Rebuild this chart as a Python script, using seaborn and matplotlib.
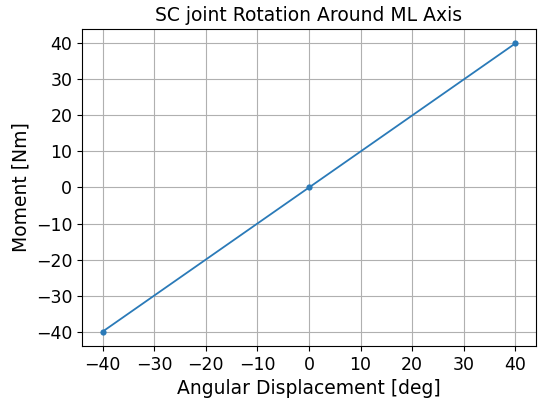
import matplotlib
matplotlib.use("Agg")
import matplotlib.pyplot as plt
import seaborn as sns
import pandas as pd

angles = [-40, 0, 40]
moments = [-40, 0, 40]

df = pd.DataFrame({"angle": angles, "moment": moments})

fig = plt.figure(figsize=(5.38, 3.99), dpi=100)
ax = fig.add_axes([82/538, 1-346/399, (536-82)/538, (346-29)/399])
sns.lineplot(data=df, x="angle", y="moment", ax=ax, marker="o", markersize=4.5,
             color="#2a7ab8", markeredgewidth=0, linewidth=1.3)
ax.grid(True, color="#b0b0b0", linewidth=0.8)
ax.set_axisbelow(True)
ax.set_xticks(range(-40, 41, 10))
ax.set_yticks(range(-40, 41, 10))
ax.tick_params(labelsize=12.5)
ax.set_xlabel("Angular Displacement [deg]", fontsize=13.5)
ax.set_ylabel("Moment [Nm]", fontsize=13.5)
ax.set_title("SC joint Rotation Around ML Axis", fontsize=13.5)
fig.savefig("out.png", dpi=100)
